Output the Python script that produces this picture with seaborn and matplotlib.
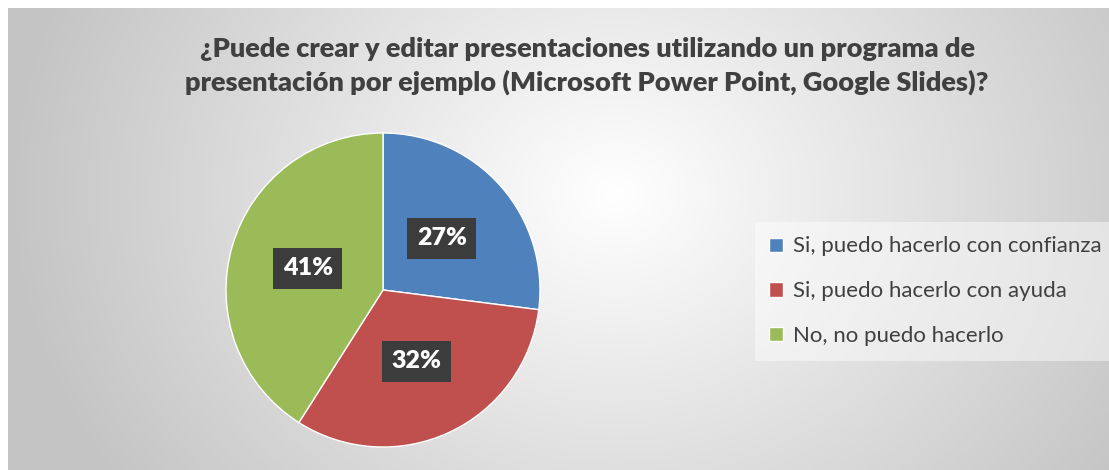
import numpy as np
import matplotlib
matplotlib.use("Agg")
import matplotlib.pyplot as plt
import seaborn as sns

categories = ["Si, puedo hacerlo con confianza", "Si, puedo hacerlo con ayuda", "No, no puedo hacerlo"]
values = [27, 32, 41]
colors = ["#4F81BD", "#C0504D", "#9BBB59"]
title = "¿Puede crear y editar presentaciones utilizando un programa de\npresentación por ejemplo (Microsoft Power Point, Google Slides)?"

sns.set_theme(style="white")
plt.rcParams['font.family'] = ['Lato', 'DejaVu Sans']

W, H = 1109, 470
fig = plt.figure(figsize=(W / 100, H / 100), dpi=100)
fig.patch.set_facecolor("white")

# background radial gradient panel
bg = fig.add_axes([8 / W, 0, 1 - 8 / W, 1 - 8 / H])
bg.set_axis_off()
ny, nx = 200, 500
yy, xx = np.mgrid[0:ny, 0:nx]
cx, cy = 0.55 * nx, 0.40 * ny
d = np.sqrt(((xx - cx) / (0.55 * nx)) ** 2 + ((yy - cy) / (1.1 * ny)) ** 2)
d = np.clip(d, 0, 1)
val = 1.0 - 0.23 * d
img = np.dstack([val, val, val])
bg.imshow(img, aspect="auto", extent=[0, 1, 0, 1], origin="upper", interpolation="bilinear")
bg.set_xlim(0, 1)
bg.set_ylim(0, 1)

fig.text(587 / W, 1 - 66 / H, title, ha="center", va="center", fontsize=19.5,
         fontweight="heavy", color="#404040", linespacing=1.4)

# pie
cxp, cyp, r = 383, 290, 157
ax = fig.add_axes([(cxp - r) / W, (H - cyp - r) / H, 2 * r / W, 2 * r / H])
wedges, texts, autotexts = ax.pie(values, colors=colors, startangle=90, counterclock=False,
                                  autopct=lambda p: f"{p:.0f}%", pctdistance=0.5,
                                  wedgeprops=dict(edgecolor="white", linewidth=1))
for t in autotexts:
    t.set_color("white")
    t.set_fontsize(18)
    t.set_fontweight("heavy")
    t.set_bbox(dict(boxstyle="square,pad=0.38", facecolor="#3c3c3c", edgecolor="none"))
ax.set_aspect("auto")
ax.set_xlim(-1, 1)
ax.set_ylim(-1, 1)

# legend
leg = fig.legend(wedges, categories, loc="upper left",
                 bbox_to_anchor=(755 / W, 1 - 222 / H), frameon=True,
                 fontsize=16, handlelength=0.6, handleheight=0.6, handletextpad=0.45,
                 labelspacing=1.12, borderpad=0.65, borderaxespad=0, fancybox=False)
leg.get_frame().set_facecolor("white")
leg.get_frame().set_alpha(0.45)
leg.get_frame().set_edgecolor("none")
for t in leg.get_texts():
    t.set_color("#404040")

fig.savefig("out.png", dpi=100)
